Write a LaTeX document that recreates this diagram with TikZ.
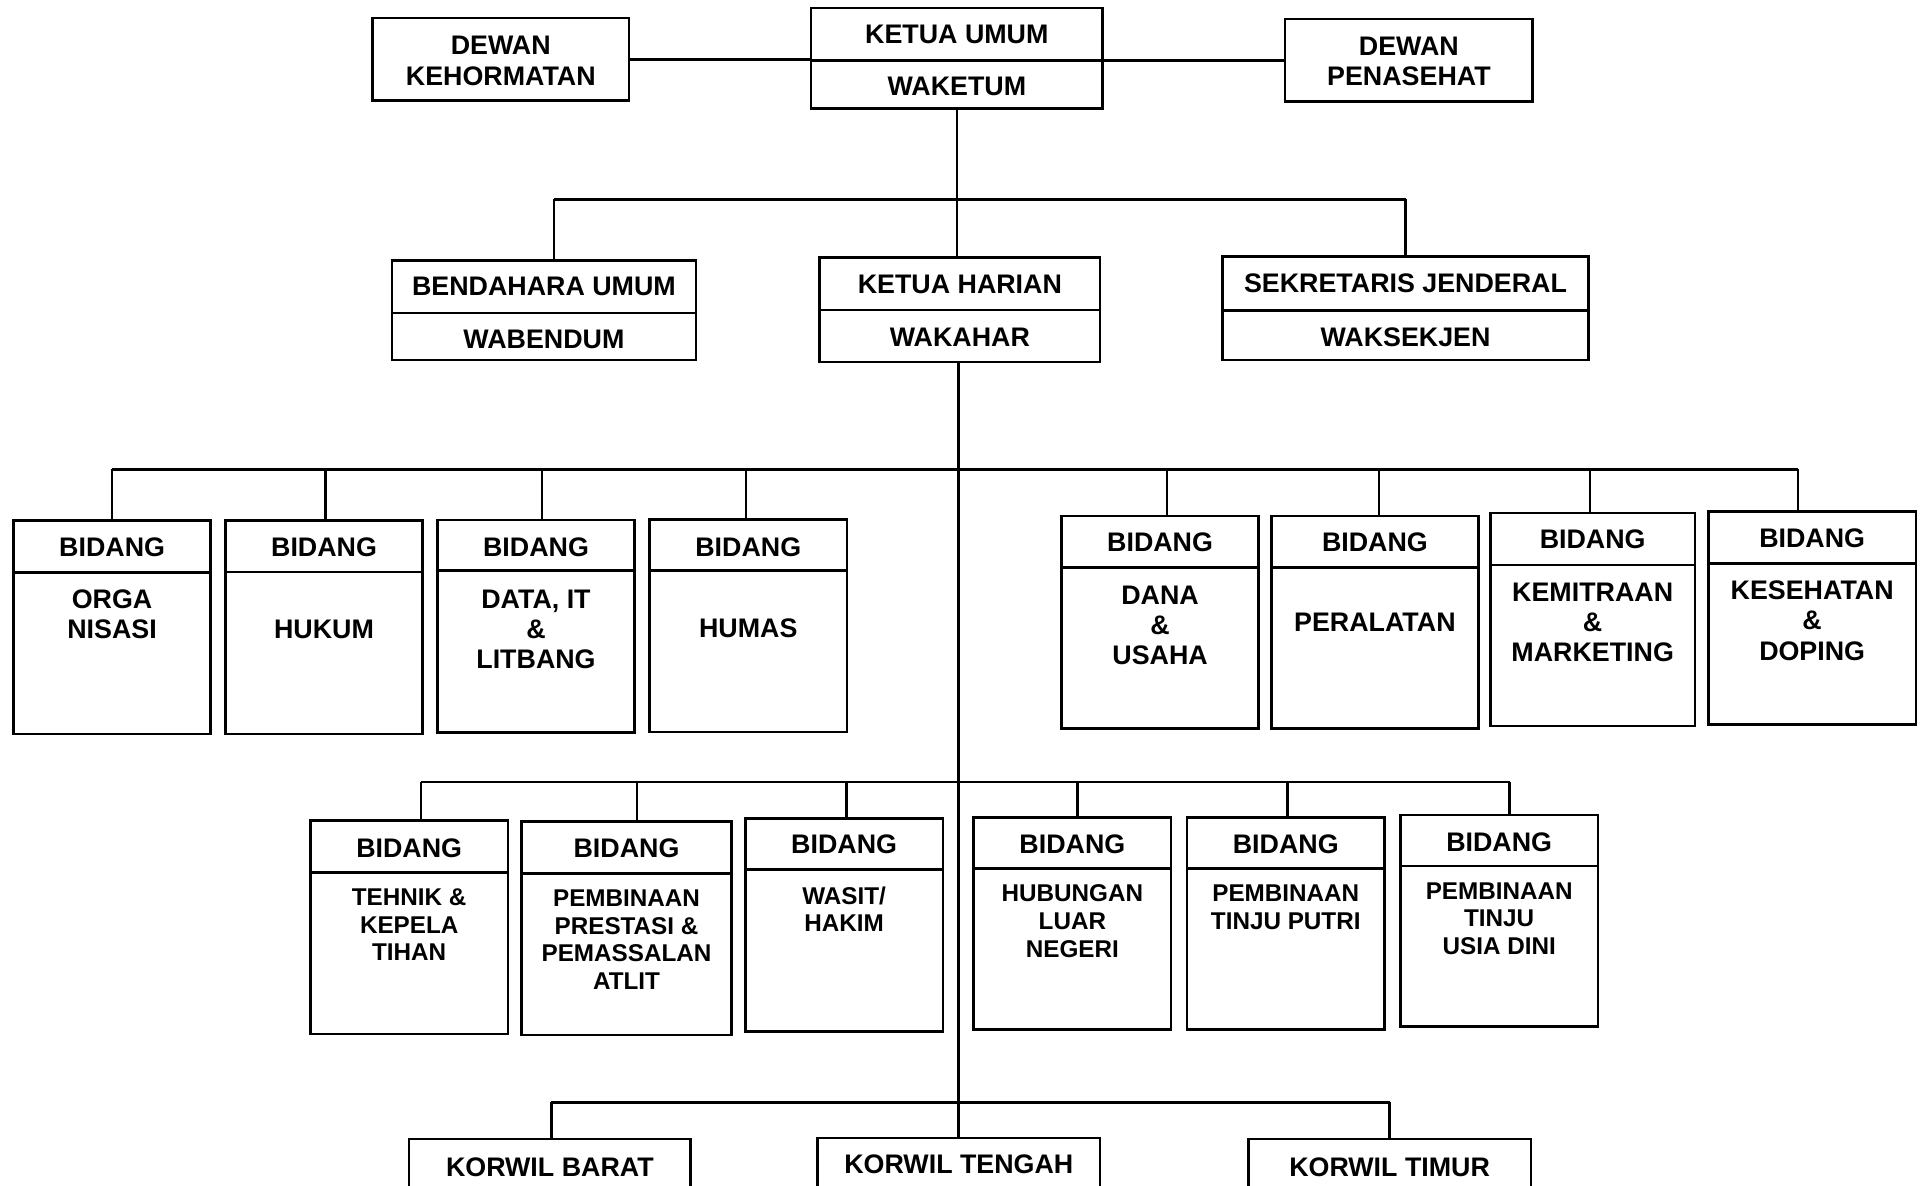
\documentclass[tikz,border=0pt]{standalone}
\usepackage{fontspec}
\setmainfont{Liberation Sans}
\usetikzlibrary{fit}
\tikzset{
  box/.style={draw, line width=2pt, inner sep=0pt, rectangle},
  divline/.style={line width=2pt},
  conn/.style={line width=2pt},
  bus/.style={line width=2.4pt},
  lbl/.style={anchor=north, inner sep=0pt, align=center, font=\bfseries\fontsize{21.9}{24.7}\selectfont},
  lblsm/.style={anchor=north, inner sep=0pt, align=center, font=\bfseries\fontsize{19.8}{22.5}\selectfont},
}
\newcommand\orgbox[6]{\node[box, fit={(#2,#3) (#4,#5)}] (#1) {};\draw[divline] (#2,#6) -- (#4,#6);}
\newcommand\plainbox[5]{\node[box, fit={(#2,#3) (#4,#5)}] (#1) {};}
\begin{document}
\begin{tikzpicture}[x=1pt,y=-1pt]
\path[use as bounding box, fill=white] (0,0) rectangle (1568,968);
\clip (0,0) rectangle (1568,968);

% ---------- top row
\plainbox{kehormatan}{304}{14.5}{513.5}{82}
\orgbox{ketua}{662}{6.5}{900}{88.5}{49.3}
\plainbox{penasehat}{1049}{15.5}{1251}{83}
\node[lbl] (tkehormatan) at (408.75,29.6) {DEWAN\\KEHORMATAN};
\node[lbl] (tketua) at (781,20.6) {KETUA UMUM};
\node[lbl] (twaketum) at (781,63) {WAKETUM};
\node[lbl] (tpenasehat) at (1150,29.8) {DEWAN\\PENASEHAT};

% ---------- second row
\orgbox{bendahara}{320}{212.8}{568}{294}{255.5}
\orgbox{harian}{669}{210.3}{898}{295.5}{253}
\orgbox{sekretaris}{998}{209.5}{1296.5}{294}{253.3}
\node[lbl] (tbendahara) at (444,225.8) {BENDAHARA UMUM};
\node[lbl] (twabendum) at (444,269.3) {WABENDUM};
\node[lbl] (tharian) at (783.5,224.3) {KETUA HARIAN};
\node[lbl] (twakahar) at (783.5,267.3) {WAKAHAR};
\node[lbl] (tsekretaris) at (1147.25,223.3) {SEKRETARIS JENDERAL};
\node[lbl] (twaksekjen) at (1147.25,267.3) {WAKSEKJEN};

% ---------- middle row
\orgbox{orga}{11}{424.7}{172}{599.1}{467.2}
\orgbox{hukum}{184}{424.7}{345}{599}{467}
\orgbox{data}{357}{424.4}{518}{598}{465.8}
\orgbox{humas}{530}{423.9}{691.5}{597.5}{465.5}
\orgbox{dana}{866.6}{421.2}{1027.2}{594.8}{463.1}
\orgbox{peralatan}{1037.7}{421.2}{1206.8}{594.8}{463.1}
\orgbox{kemitraan}{1216.7}{418.7}{1383.3}{592.6}{461.2}
\orgbox{kesehatan}{1394.4}{417.4}{1563.9}{591.5}{459.8}

\node[lbl] (horga) at (91.5,438.5) {BIDANG};
\node[lbl] (hhukum) at (264.5,438.5) {BIDANG};
\node[lbl] (hdata) at (437.5,438.5) {BIDANG};
\node[lbl] (hhumas) at (610.75,438.5) {BIDANG};
\node[lbl] (hdana) at (946.9,434.5) {BIDANG};
\node[lbl] (hperalatan) at (1122.25,434.5) {BIDANG};
\node[lbl] (hkemitraan) at (1300,432.6) {BIDANG};
\node[lbl] (hkesehatan) at (1479.15,431) {BIDANG};

\node[lbl] (torga) at (91.5,481.2) {ORGA\\NISASI};
\node[lbl] (thukum) at (264.5,506) {HUKUM};
\node[lbl] (tdata) at (437.5,481.2) {DATA, IT\\\&\\LITBANG};
\node[lbl] (thumas) at (610.75,504.7) {HUMAS};
\node[lbl] (tdana) at (946.9,478) {DANA\\\&\\USAHA};
\node[lbl] (tperalatan) at (1122.25,499.8) {PERALATAN};
\node[lbl] (tkemitraan) at (1300,475.3) {KEMITRAAN\\\&\\MARKETING};
\node[lbl] (tkesehatan) at (1479.15,473.9) {KESEHATAN\\\&\\DOPING};

% ---------- lower row
\orgbox{tehnik}{253.3}{669.9}{414.7}{844}{712.3}
\orgbox{prestasi}{425.8}{670.4}{597}{844.6}{712.9}
\orgbox{wasit}{608.5}{668}{769.5}{842.1}{709.6}
\orgbox{hubungan}{794.6}{667.4}{956}{840.2}{708.8}
\orgbox{putri}{968.8}{667.4}{1130.2}{840.2}{708.8}
\orgbox{dini}{1143}{665.3}{1304.4}{838}{706.9}

\node[lbl] (htehnik) at (334,684.2) {BIDANG};
\node[lbl] (hprestasi) at (511.4,684.2) {BIDANG};
\node[lbl] (hwasit) at (689,681.5) {BIDANG};
\node[lbl] (hhubungan) at (875.3,681.5) {BIDANG};
\node[lbl] (hputri) at (1049.5,681.5) {BIDANG};
\node[lbl] (hdini) at (1223.7,679.3) {BIDANG};

\node[lblsm] (ttehnik) at (334,725.5) {TEHNIK \&\\KEPELA\\TIHAN};
\node[lblsm] (tprestasi) at (511.4,726.3) {PEMBINAAN\\PRESTASI \&\\PEMASSALAN\\ATLIT};
\node[lblsm] (twasit) at (689,723.6) {WASIT/\\HAKIM};
\node[lblsm] (thubungan) at (875.3,722.2) {HUBUNGAN\\LUAR\\NEGERI};
\node[lblsm] (tputri) at (1049.5,722.2) {PEMBINAAN\\TINJU PUTRI};
\node[lblsm] (tdini) at (1223.7,720) {PEMBINAAN\\TINJU\\USIA DINI};

% ---------- korwil row
\plainbox{barat}{333.9}{929.7}{563.7}{990}
\plainbox{tengah}{667.4}{928.7}{897.9}{990}
\plainbox{timur}{1019}{929.7}{1249.5}{990}
\node[lbl] (tbarat) at (448.8,944.6) {KORWIL BARAT};
\node[lbl] (ttengah) at (782.65,942.4) {KORWIL TENGAH};
\node[lbl] (ttimur) at (1134.25,944.6) {KORWIL TIMUR};

% ---------- connectors
\draw[bus] (kehormatan.east) -- (kehormatan.east -| ketua.west);
\draw[bus] (penasehat.west) -- (penasehat.west -| ketua.east);

\coordinate (bus1) at (782,162.7);
\coordinate (bus2) at (782,383.1);
\coordinate (bus3) at (782,638.3);
\coordinate (bus4) at (782,899.8);

\draw[conn] (ketua.south) -- (ketua.south |- harian.north);
\coordinate (dbend) at ([xshift=8pt]bendahara.north);
\draw[conn] (dbend) -- (dbend |- bus1);
\draw[conn] (sekretaris.north) -- (sekretaris.north |- bus1);
\draw[bus] (dbend |- bus1) -- (sekretaris.north |- bus1);

\draw[conn] ([xshift=-1pt]harian.south) -- ([xshift=-1pt]harian.south |- tengah.north);

% middle bus
\coordinate (dorga) at (orga.north);
\coordinate (dhukum) at ([xshift=1pt]hukum.north);
\coordinate (ddata) at ([xshift=5pt]data.north);
\coordinate (dhumas) at ([xshift=-1.75pt]humas.north);
\coordinate (ddana) at ([xshift=5.7pt]dana.north);
\coordinate (dperalatan) at ([xshift=3.5pt]peralatan.north);
\coordinate (dkemitraan) at ([xshift=-2.2pt]kemitraan.north);
\coordinate (dkesehatan) at ([xshift=-11.35pt]kesehatan.north);
\draw[bus] (dorga |- bus2) -- (dkesehatan |- bus2);
\foreach \d in {dorga,dhukum,ddata,dhumas,ddana,dperalatan,dkemitraan,dkesehatan}
  \draw[conn] (\d) -- (\d |- bus2);

% lower bus
\coordinate (dtehnik) at ([xshift=9.8pt]tehnik.north);
\coordinate (dprestasi) at ([xshift=8.7pt]prestasi.north);
\coordinate (dwasit) at ([xshift=1.9pt]wasit.north);
\coordinate (dhubungan) at ([xshift=4.3pt]hubungan.north);
\coordinate (dputri) at ([xshift=1.3pt]putri.north);
\coordinate (ddini) at ([xshift=8.5pt]dini.north);
\draw[bus] (dtehnik |- bus3) -- (ddini |- bus3);
\foreach \d in {dtehnik,dprestasi,dwasit,dhubungan,dputri,ddini}
  \draw[conn] (\d) -- (\d |- bus3);

% korwil bus
\coordinate (dbarat) at ([xshift=1.2pt]barat.north);
\draw[bus] (dbarat |- bus4) -- (timur.north |- bus4);
\draw[conn] (dbarat) -- (dbarat |- bus4);
\draw[conn] (timur.north) -- (timur.north |- bus4);
\end{tikzpicture}
\end{document}
